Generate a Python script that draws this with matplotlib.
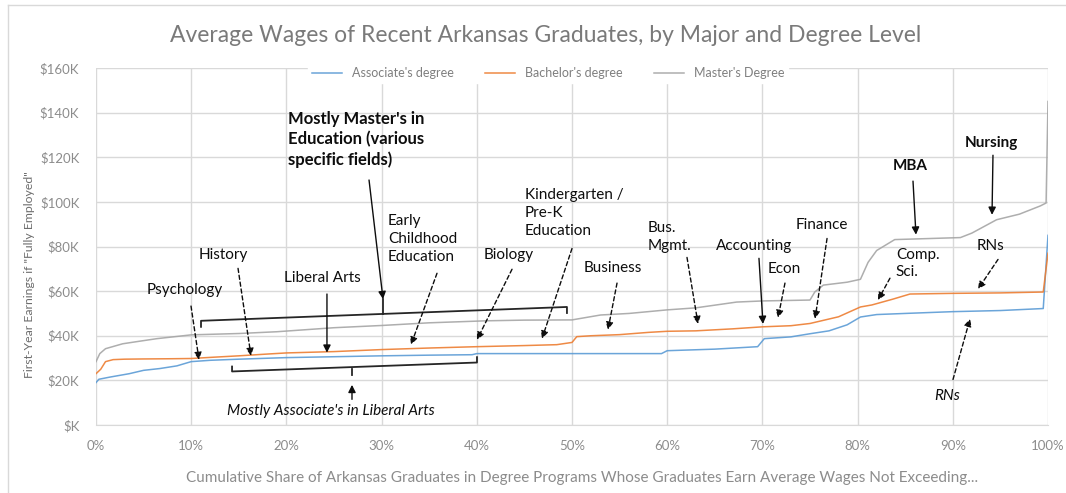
import matplotlib.pyplot as plt
from matplotlib.lines import Line2D

# cumulative share of graduates (%) and average first-year wage ($K) for each degree level
assoc_share = [0, 0.3, 1.5, 3.5, 5, 6.7, 8.5, 10, 12, 15, 20, 25, 30, 35, 39.5, 40, 45, 50, 55, 59.4, 60, 65, 69.5,
               70.2, 73, 75, 77, 78.9, 80.3, 82, 85, 90, 95, 99.5, 100]
assoc_wage = [19, 20.5, 21.5, 23, 24.5, 25.3, 26.5, 28.4, 29, 29.5, 30.2, 30.6, 31, 31.3, 31.5, 32, 32, 32, 32, 32,
              33.3, 34, 35.1, 38.7, 39.5, 40.9, 42.2, 44.9, 48.4, 49.5, 50, 50.8, 51.3, 52.2, 85]

bach_share = [0, 0.5, 1, 1.8, 3, 5, 8, 10, 12, 15, 18, 20, 25, 30, 35, 40, 45, 48.4, 50, 50.5, 52, 55, 58, 60, 63,
              66.9, 70, 73, 75, 76.5, 78, 80.3, 81.5, 83.7, 85.5, 90, 95, 99.5, 100]
bach_wage = [23, 25, 28.4, 29.3, 29.5, 29.6, 29.7, 29.8, 30.3, 31, 31.8, 32.3, 32.9, 33.8, 34.5, 35.1, 35.6, 36, 37,
             39.6, 40, 40.5, 41.5, 42, 42.2, 43.1, 44, 44.5, 45.5, 47, 48.5, 52.9, 53.8, 56.4, 58.7, 59, 59.2, 59.6, 77]

mast_share = [0, 0.4, 1, 2.8, 4.5, 6.4, 10, 15, 19, 25, 30, 35, 41, 45, 50, 53, 56, 60, 63, 67.3, 70, 75, 75.5,
              76.4, 78.9, 80.3, 81.1, 82, 83.9, 87, 90.8, 92, 94.6, 97, 99.2, 99.8, 100]
mast_wage = [28.4, 32, 34.2, 36.4, 37.5, 38.7, 40.4, 41, 41.8, 43.6, 44.6, 45.8, 46.7, 47, 47.1, 49.3, 50, 51.6,
             52.5, 55.1, 55.6, 56, 59.6, 62.7, 64, 65.3, 72.9, 78.2, 83.1, 83.5, 84, 86, 92, 94.5, 98.2, 99.5, 145]

series_names = ["Associate's degree", "Bachelor's degree", "Master's Degree"]
series_colors = ['#5b9bd5', '#ed7d31', '#a5a5a5']

y_ticks = [0, 20, 40, 60, 80, 100, 120, 140, 160]
x_ticks = [0, 10, 20, 30, 40, 50, 60, 70, 80, 90, 100]

# callouts: text, text position, arrow start, arrow tip, dashed?, weight, style, alignment
callouts = [
    ('Psychology', (9.35, 60.4), (9.98, 53.3), (10.82, 29.2), True, 'normal', 'normal', 'center'),
    ('History', (13.34, 76.4), (14.92, 70.2), (16.28, 31.0), True, 'normal', 'normal', 'center'),
    ('Liberal Arts', (23.74, 65.8), (24.26, 58.7), (24.26, 32.4), False, 'normal', 'normal', 'center'),
    ('Early\nChildhood\nEducation', (30.67, 83.5), (35.82, 68), (33.09, 36), True, 'normal', 'normal', 'left'),
    ('Biology', (43.38, 76.4), (43.7, 69.8), (40.02, 38.2), True, 'normal', 'normal', 'center'),
    ('Kindergarten /\nPre-K\nEducation', (45.06, 95.1), (50, 79.1), (46.85, 38.7), True, 'normal', 'normal', 'left'),
    ('Business', (54.31, 70.2), (54.73, 63.6), (53.78, 42.7), True, 'normal', 'normal', 'center'),
    ('Bus.\nMgmt.', (57.98, 84.4), (62.08, 75.1), (63.24, 45.3), True, 'normal', 'normal', 'left'),
    ('Accounting', (69.12, 80.4), (69.64, 74.7), (70.06, 45.3), False, 'normal', 'normal', 'center'),
    ('Econ', (72.27, 69.8), (72.37, 63.6), (71.64, 48), True, 'normal', 'normal', 'center'),
    ('Finance', (76.26, 89.8), (76.79, 83.6), (75.53, 47.6), True, 'normal', 'normal', 'center'),
    ('MBA', (85.5, 116), (85.82, 109.3), (86.13, 85.3), False, 'bold', 'normal', 'center'),
    ('Nursing', (94.01, 126.2), (94.22, 120.9), (94.12, 94.2), False, 'bold', 'normal', 'center'),
    ('Comp.\nSci.', (84.03, 72.4), (83.4, 65.8), (82.14, 56), True, 'normal', 'normal', 'left'),
    ('RNs', (94.01, 80.4), (94.75, 74.2), (92.65, 60.9), True, 'normal', 'normal', 'center'),
    ('RNs', (89.39, 12.9), (90.02, 20.4), (91.81, 47.6), True, 'normal', 'italic', 'center'),
]

plt.rcParams['font.family'] = ['Lato', 'DejaVu Sans']

fig = plt.figure(figsize=(10.66, 4.93), dpi=100)
ax = fig.add_axes([96 / 1066, 1 - 425 / 493, 952 / 1066, 357 / 493])

# the three curves
ax.plot(assoc_share, assoc_wage, color=series_colors[0], lw=1.1, alpha=0.9, label=series_names[0])
ax.plot(bach_share, bach_wage, color=series_colors[1], lw=1.1, alpha=0.9, label=series_names[1])
ax.plot(mast_share, mast_wage, color=series_colors[2], lw=1.1, alpha=0.9, label=series_names[2])

ax.set_xlim(0, 100)
ax.set_ylim(0, 160)
ax.set_xticks(x_ticks)
ax.set_xticklabels([f'{v}%' for v in x_ticks])
ax.set_yticks(y_ticks)
ax.set_yticklabels(['$K' if v == 0 else f'${v}K' for v in y_ticks])
ax.tick_params(length=0, labelsize=9.5, labelcolor='#8c8c8c')
ax.tick_params(axis='x', pad=11)
ax.tick_params(axis='y', pad=12)
ax.grid(color='#d9d9d9', lw=1)
ax.set_axisbelow(True)
for s in ['top', 'right', 'left']:
    ax.spines[s].set_visible(False)
ax.spines['bottom'].set_color('#d9d9d9')

# brackets around the groups of programs
ax.plot([11.03, 11.03, 49.47, 49.47], [44.0, 46.7, 52.9, 50.2], color='#262626', lw=1.3)
ax.plot([30.15, 30.15], [49.8, 56.4], color='#262626', lw=1.3)
ax.plot([14.29, 14.29, 40.02, 40.02], [26.2, 24.0, 28.0, 30.4], color='#262626', lw=1.3)
ax.plot([26.89, 26.89], [25.2, 22.4], color='#262626', lw=1.3)

ax.text(20.17, 128, "Mostly Master's in\nEducation (various\nspecific fields)", fontsize=12,
        fontweight='bold', color='#0d0d0d', ha='left', va='center', linespacing=1.3)
ax.annotate('', xy=(30.15, 56.4), xytext=(28.68, 109.8),
            arrowprops=dict(arrowstyle='-|>', color='#0d0d0d', lw=1, mutation_scale=11, shrinkA=0, shrinkB=0))
ax.text(24.68, 6.2, "Mostly Associate's in Liberal Arts", fontsize=11, fontstyle='italic',
        color='#0d0d0d', ha='center', va='center')
ax.annotate('', xy=(26.89, 18.0), xytext=(26.89, 11.5),
            arrowprops=dict(arrowstyle='-|>', color='#0d0d0d', lw=1, mutation_scale=11, shrinkA=0, shrinkB=0))

for label, txt_xy, start, tip, dashed, weight, style, align in callouts:
    ax.text(txt_xy[0], txt_xy[1], label, fontsize=11, fontweight=weight, fontstyle=style, color='#0d0d0d',
            ha=align, va='center', linespacing=1.35)
    ax.annotate('', xy=tip, xytext=start,
                arrowprops=dict(arrowstyle='-|>', color='#0d0d0d', lw=1, mutation_scale=11,
                                linestyle=(0, (3, 2)) if dashed else '-', shrinkA=0, shrinkB=0))

leg = ax.legend(loc='center', bbox_to_anchor=(0.475, 0.985), ncol=3, frameon=True, fontsize=9,
                handlelength=2.4, columnspacing=2.5, borderpad=0.3, labelcolor='#7f7f7f')
leg.get_frame().set_facecolor('white')
leg.get_frame().set_edgecolor('white')
leg.get_frame().set_alpha(1)

fig.text(546 / 1066, 1 - 36 / 493, 'Average Wages of Recent Arkansas Graduates, by Major and Degree Level',
         ha='center', va='center', fontsize=16.5, color='#7a7a7a')
fig.text(30 / 1066, 1 - 275 / 493, 'First-Year Earnings if "Fully Employed"', rotation=90,
         ha='center', va='center', fontsize=8.8, color='#6d6d6d')
fig.text(582 / 1066, 1 - 478 / 493,
         'Cumulative Share of Arkansas Graduates in Degree Programs Whose Graduates Earn Average Wages Not Exceeding...',
         ha='center', va='center', fontsize=11, color='#8c8c8c')

# chart area border (left and top edges are visible in the picture)
fig.add_artist(Line2D([8 / 1066, 8 / 1066], [0, 1 - 5 / 493], transform=fig.transFigure, color='#d9d9d9', lw=1))
fig.add_artist(Line2D([8 / 1066, 1], [1 - 5 / 493, 1 - 5 / 493], transform=fig.transFigure, color='#d9d9d9', lw=1))

fig.savefig('out.png', dpi=100)
